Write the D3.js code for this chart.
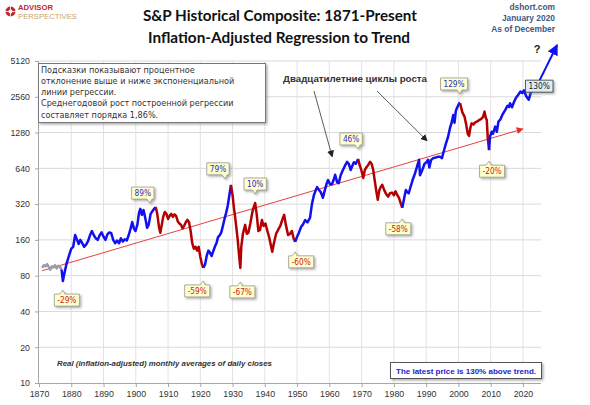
<!DOCTYPE html>
<html><head><meta charset="utf-8">
<script src="https://cdn.jsdelivr.net/npm/d3@7"></script>
<style>body{margin:0;background:#fff}svg{display:block}</style>
</head><body>
<script>
// ---------- DATA ----------
const years = [
1871.0,1871.5,1872.0,1872.5,1873.0,1873.5,1874.0,1874.5,1875.0,1875.5,1876.0,1876.5,1877.0,
1877.4,1877.8,1878.5,1879.3,1880.0,1880.6,1881.2,1881.8,1882.3,1882.8,1883.4,1884.0,1884.6,1885.2,1885.8,1886.4,1887.0,1887.6,1888.2,1888.8,1889.4,1890.0,1890.6,1891.2,1891.8,1892.4,1893.0,1893.6,1894.2,1894.8,1895.4,1896.0,1896.6,1897.2,1897.8,1898.4,1898.9,1899.4,1899.9,1900.5,1901.0,1901.4,1901.9,1902.4,1903.0,1903.5,1904.0,1904.6,1905.2,1905.8,1906.2,
1906.7,1907.2,1907.6,1908.0,1908.5,1909.0,1909.5,1910.0,1910.5,1911.0,1911.5,1912.0,1912.5,1913.0,1913.5,1914.0,1914.5,1915.0,1915.5,1916.0,1916.5,1917.0,1917.5,1918.0,1918.5,1919.0,1919.5,1920.0,1920.5,1920.9,
1921.5,1922.0,1922.5,1923.0,1923.5,1924.0,1924.5,1925.0,1925.5,1926.0,1926.5,1927.0,1927.5,1928.0,1928.5,1929.0,1929.5,
1930.0,1930.4,1930.8,1931.2,1931.6,1932.0,1932.4,1932.7,1933.2,1933.9,1934.4,1934.9,1935.5,1936.2,1937.0,1937.5,1938.0,1938.5,1939.1,1939.6,1940.2,1940.7,1941.3,1942.3,1942.8,1943.5,1944.1,1944.8,1945.5,1946.0,1946.5,1947.2,1947.8,1948.4,1948.9,1949.4,
1950.0,1950.6,1951.2,1951.8,1952.5,1953.2,1954.0,1954.6,1955.2,1955.8,1956.2,1956.8,1957.4,1958.0,1958.6,1959.2,1959.6,1960.2,1960.8,1961.2,1961.8,1962.4,1962.9,1963.5,1964.2,1964.8,1965.5,1966.0,1966.6,1967.0,1967.6,1968.2,1968.9,
1969.4,1969.9,1970.5,1971.0,1971.6,1972.0,1972.6,1973.1,1973.6,1974.0,1974.5,1975.0,1975.5,1976.0,1976.4,1977.0,1977.6,1978.2,1978.8,1979.4,1980.0,1980.5,1981.0,1981.6,1982.2,1982.6,
1983.2,1983.7,1984.1,1984.6,1985.2,1985.8,1986.6,1987.3,1987.8,1988.1,1988.8,1989.5,1990.1,1990.6,1991.0,1991.5,1992.2,1993.0,1993.6,1994.3,1994.9,1995.5,1996.2,1996.8,1997.4,1997.9,1998.4,1998.8,1999.2,1999.7,2000.2,2000.5,
2001.2,2001.9,2002.4,2002.9,2003.3,2003.7,2004.1,2004.7,2005.2,2005.7,2006.3,2006.8,2007.3,2007.7,2008.1,2008.5,2008.8,2009.1,2009.5,
2009.8,2010.3,2010.7,2011.4,2011.9,2012.4,2013.0,2013.6,2014.5,2015.2,2015.7,2016.0,2016.6,2017.2,2017.8,2018.5,2019.2,2019.8,2020.3,2021.0,2021.8,2022.5,2023.2
];
const values = [
93,98,96,100,95,90,96,94,98,92,97,95,90,
72,82,100,118,135,140,176,160,148,160,150,140,146,156,175,190,175,165,160,175,185,170,160,178,185,182,160,150,158,150,165,155,162,158,175,200,226,200,190,215,270,292,260,285,240,202,215,265,280,295,302,
260,205,184,210,250,275,265,240,255,265,250,262,255,230,220,215,200,210,225,236,225,190,150,135,140,130,140,115,100,93,
100,118,130,125,117,128,140,150,169,175,185,210,240,270,310,380,465,
380,300,249,200,160,120,93,140,180,214,180,184,220,280,327,260,190,194,235,210,220,194,170,127,150,180,194,210,240,260,215,176,180,190,165,154,
170,185,205,215,235,225,245,320,380,420,445,420,400,362,420,480,510,470,470,500,565,490,480,560,620,670,725,700,620,660,720,700,768,
680,620,531,620,660,680,725,700,620,520,420,348,420,450,465,420,390,370,396,400,380,410,384,360,320,298,
360,420,405,395,450,510,585,680,755,560,620,700,720,755,650,750,780,790,800,800,780,900,1050,1180,1400,1550,1800,1550,1950,2100,2250,2270,
1900,1742,1500,1250,1200,1400,1530,1500,1560,1580,1620,1650,1690,1750,1920,1700,1630,1150,910,
1185,1300,1250,1435,1300,1580,1650,1800,1980,2150,2100,2260,2090,2300,2500,2650,2830,2750,2900,2600,2420,2800,3025
];
const regimeStart = [1871.0, 1877.0, 1906.2, 1920.9, 1929.5, 1949.4, 1968.9, 1982.6, 2000.5, 2009.5];
const regimeEnd   = [1877.0, 1906.2, 1920.9, 1929.5, 1949.4, 1968.9, 1982.6, 2000.5, 2009.5, 2023.2];
const regimeKind  = ['pre','bull','bear','bull','bear','bull','bear','bull','bear','bull'];

const trendYears  = [1871, 2020];
const trendValues = [88, 1375];

const yTicks = [10,20,40,80,160,320,640,1280,2560,5120];
const xTicks = [1870,1880,1890,1900,1910,1920,1930,1940,1950,1960,1970,1980,1990,2000,2010,2020];

const calloutLabels = ['-29%','89%','-59%','79%','-67%','10%','-60%','46%','-58%','129%','-20%','130%'];
const calloutYears  = [1877.4,1906.2,1920.9,1929.5,1932.4,1937.0,1949.4,1968.9,1982.6,2000.5,2009.5,2023.2];
const calloutValues = [72,302,93,465,93,327,154,768,298,2270,910,3025];
const calloutKind   = ['down','up','down','up','down','up','down','up','down','up','down','latest'];

const noteLines = [
 'Подсказки показывают процентное',
 'отклонение выше и ниже экспоненциальной',
 'линии регрессии.',
 'Среднегодовой рост построенной регрессии',
 'составляет порядка 1,86%.'
];
const cycleText = 'Двадцатилетние циклы роста';
const cycleArrowYears = [1960.9, 1990.3];
const cycleArrowValues = [800, 1090];

// ---------- LAYOUT ----------
const W = 590, H = 405;
const svg = d3.select('body').append('svg').attr('width', W).attr('height', H)
  .style('font-family', '"Liberation Sans", Arial, sans-serif');

const x = d3.scaleLinear().domain([1870, 2025.6]).range([39, 541]);
const y = d3.scaleLog().base(2).domain([10, 5120]).range([383, 61]);

const defs = svg.append('defs');
const sh = defs.append('filter').attr('id','sh').attr('x','-20%').attr('y','-20%').attr('width','150%').attr('height','160%');
sh.append('feDropShadow').attr('dx',1.5).attr('dy',1.5).attr('stdDeviation',0.8).attr('flood-color','#777').attr('flood-opacity',0.6);
function marker(id, color, size){
  defs.append('marker').attr('id',id).attr('viewBox','0 0 10 10').attr('refX',9).attr('refY',5)
    .attr('markerWidth',size).attr('markerHeight',size).attr('orient','auto-start-reverse')
    .attr('markerUnits','userSpaceOnUse')
    .append('path').attr('d','M0,0 L10,5 L0,10 z').attr('fill',color);
}
marker('arBlack','#222',7);
marker('arRed','#e03030',7);
marker('arBlue','#1010f0',11);

// gridlines
const grid = svg.append('g');
grid.selectAll('line.h').data(yTicks.slice(1)).join('line')
  .attr('x1', 39).attr('x2', 541).attr('y1', d=>y(d)).attr('y2', d=>y(d))
  .attr('stroke','#d9d9d9').attr('stroke-width',1);
grid.selectAll('line.v').data(xTicks.slice(1)).join('line')
  .attr('x1', d=>x(d)).attr('x2', d=>x(d)).attr('y1', 61).attr('y2', 383)
  .attr('stroke','#e2e2e2').attr('stroke-width',1);

// axes
const yAxis = svg.append('g').attr('transform','translate(39,0)')
  .call(d3.axisLeft(y).tickValues(yTicks).tickFormat(d3.format('d')).tickSize(4).tickPadding(5));
const xAxis = svg.append('g').attr('transform','translate(0,383)')
  .call(d3.axisBottom(x).tickValues(xTicks).tickFormat(d3.format('d')).tickSize(4).tickPadding(4));
[yAxis, xAxis].forEach(a=>{
  a.select('.domain').attr('stroke','#a6a6a6');
  a.selectAll('.tick line').attr('stroke','#a6a6a6');
  a.selectAll('text').attr('fill','#333').style('font-size','8.8px').style('font-family','"Liberation Sans", Arial, sans-serif');
});
yAxis.select('.domain').attr('d','M-0.5,61V383.5');
xAxis.select('.domain').attr('d','M39,0.5H541');

// regression trend
svg.append('line')
  .attr('x1', x(trendYears[0])).attr('y1', y(trendValues[0]))
  .attr('x2', x(trendYears[1])).attr('y2', y(trendValues[1]))
  .attr('stroke','#e84040').attr('stroke-width',1).attr('marker-end','url(#arRed)');

// price series coloured by regime
const line = d3.line().x(d=>x(d[0])).y(d=>y(d[1]));
const pts = years.map((t,i)=>[t, values[i]]);
const kindColor = {pre:'#9a9aaa', bull:'#1010f0', bear:'#b40000'};
regimeStart.forEach((s,i)=>{
  const seg = pts.filter(p=>p[0]>=s-1e-9 && p[0]<=regimeEnd[i]+1e-9);
  svg.append('path').attr('d', line(seg)).attr('fill','none')
    .attr('stroke', kindColor[regimeKind[i]]).attr('stroke-width', 2.5)
    .attr('stroke-linejoin','round');
});

// final blue arrow
const lastT = years[years.length-1], lastV = values[values.length-1];
svg.append('line').attr('x1', x(lastT)+1).attr('y1', y(lastV)+3)
  .attr('x2', x(2030.6)).attr('y2', y(6980))
  .attr('stroke','#1010f0').attr('stroke-width',2).attr('marker-end','url(#arBlue)');
svg.append('text').attr('x',537).attr('y',53).attr('text-anchor','middle')
  .style('font-size','11px').style('font-weight','bold').attr('fill','#222').text('?');

// note box
svg.append('rect').attr('x',38.5).attr('y',63.5).attr('width',227).attr('height',59)
  .attr('fill','#fff').attr('stroke','#777').attr('stroke-width',1).attr('filter','url(#sh)');
const noteBase = [72.5, 83.8, 95, 106.3, 117.5];
svg.selectAll('text.note').data(noteLines).join('text')
  .attr('x',41).attr('y',(d,i)=>noteBase[i])
  .style('font-family','"DejaVu Sans", Verdana, sans-serif').style('font-size','8.1px')
  .attr('fill','#333').text(d=>d);

// cycle text + arrows
svg.append('text').attr('x',283).attr('y',82).attr('textLength',144).attr('lengthAdjust','spacingAndGlyphs')
  .style('font-size','9.6px').style('font-weight','bold').attr('fill','#333').text(cycleText);
const cycleFrom = [[314,91],[377,91]];
cycleFrom.forEach((f,i)=>{
  svg.append('line').attr('x1',f[0]).attr('y1',f[1])
    .attr('x2',x(cycleArrowYears[i])).attr('y2',y(cycleArrowValues[i]))
    .attr('stroke','#333').attr('stroke-width',0.8).attr('marker-end','url(#arBlack)');
});

// callouts
const calloutOffset = [[4,19],[-13,-14],[-6,23],[-13,-16],[2,24],[0,-19],[6,20],[-7,-20],[-4,21],[-6,-19],[3,21],[6,-2]];
calloutLabels.forEach((lab,i)=>{
  const px = x(calloutYears[i]), py = y(calloutValues[i]);
  const cx = px + calloutOffset[i][0], cy = py + calloutOffset[i][1];
  const kind = calloutKind[i];
  const g = svg.append('g');
  const t = g.append('text').attr('x',cx).attr('y',cy+3).attr('text-anchor','middle')
    .style('font-size', kind==='latest' ? '8.4px' : '8.2px')
    .style('font-family','"DejaVu Sans Condensed", "DejaVu Sans", sans-serif')
    .attr('fill', kind==='down' ? '#cc1a1a' : (kind==='up' ? '#2a2ad0' : '#222'))
    .text(lab);
  const bb = t.node().getBBox();
  const bw = bb.width + 6, bh = 12;
  const bx = cx - bw/2, by = cy - bh/2;
  let d = `M${bx},${by}H${bx+bw}V${by+bh}H${bx}Z`;
  if (kind==='up'){
    const tx = Math.max(bx+4, Math.min(bx+bw-4, px));
    d = `M${bx},${by}H${bx+bw}V${by+bh}H${tx+2}L${tx},${by+bh+4}L${tx-3},${by+bh}H${bx}Z`;
  } else if (kind==='down'){
    const tx = Math.max(bx+4, Math.min(bx+bw-4, px));
    d = `M${bx},${by}H${tx-3}L${tx},${by-4}L${tx+2},${by}H${bx+bw}V${by+bh}H${bx}Z`;
  }
  g.insert('path','text').attr('d',d)
    .attr('fill', kind==='latest' ? '#dcecf8' : '#ffffcc')
    .attr('stroke', kind==='latest' ? '#333' : '#999').attr('stroke-width',0.8)
    .attr('filter','url(#sh)');
});

// titles
svg.append('text').attr('x',280).attr('y',21).attr('text-anchor','middle')
  .attr('textLength',274).attr('lengthAdjust','spacingAndGlyphs')
  .style('font-family','Lato, "Open Sans", sans-serif').style('font-size','15.5px').style('font-weight','bold')
  .attr('fill','#111').text('S&P Historical Composite: 1871-Present');
svg.append('text').attr('x',279).attr('y',43).attr('text-anchor','middle')
  .attr('textLength',262).attr('lengthAdjust','spacingAndGlyphs')
  .style('font-family','Lato, "Open Sans", sans-serif').style('font-size','15.5px').style('font-weight','bold')
  .attr('fill','#111').text('Inflation-Adjusted Regression to Trend');

// top-right credits
[['dshort.com',10],['January 2020',21],['As of December',32]].forEach(d=>{
  svg.append('text').attr('x',555).attr('y',d[1]).attr('text-anchor','end')
    .style('font-size','8.4px').style('font-weight','bold').attr('fill','#3b5a86').text(d[0]);
});

// logo
const lg = svg.append('g');
lg.append('circle').attr('cx',10.5).attr('cy',11.5).attr('r',5).attr('fill','#c0282d');
lg.append('circle').attr('cx',10.5).attr('cy',11.5).attr('r',2).attr('fill','#fff');
lg.append('line').attr('x1',4).attr('x2',17).attr('y1',11.5).attr('y2',11.5).attr('stroke','#fff').attr('stroke-width',0.8);
lg.append('line').attr('x1',10.5).attr('x2',10.5).attr('y1',5).attr('y2',18).attr('stroke','#fff').attr('stroke-width',0.8);
lg.append('text').attr('x',18).attr('y',10).attr('textLength',35).attr('lengthAdjust','spacingAndGlyphs')
  .style('font-size','7.2px').style('font-weight','bold').attr('fill','#c0282d').text('ADVISOR');
lg.append('text').attr('x',18).attr('y',18.6).attr('textLength',59).attr('lengthAdjust','spacingAndGlyphs')
  .style('font-size','6.8px').attr('fill','#c9a46a').text('PERSPECTIVES');

// bottom notes
svg.append('text').attr('x',57).attr('y',366).attr('textLength',215).attr('lengthAdjust','spacingAndGlyphs')
  .style('font-size','7.6px').style('font-weight','bold').style('font-style','italic').attr('fill','#333')
  .text('Real (inflation-adjusted) monthly averages of daily closes');
svg.append('rect').attr('x',390.5).attr('y',362.5).attr('width',151).attr('height',16)
  .attr('fill','#fff').attr('stroke','#555').attr('stroke-width',1).attr('filter','url(#sh)');
svg.append('text').attr('x',466).attr('y',373.5).attr('text-anchor','middle').attr('textLength',140).attr('lengthAdjust','spacingAndGlyphs')
  .style('font-size','7.6px').style('font-weight','bold').attr('fill','#2222cc')
  .text('The latest price is 130% above trend.');
</script>
</body></html>
